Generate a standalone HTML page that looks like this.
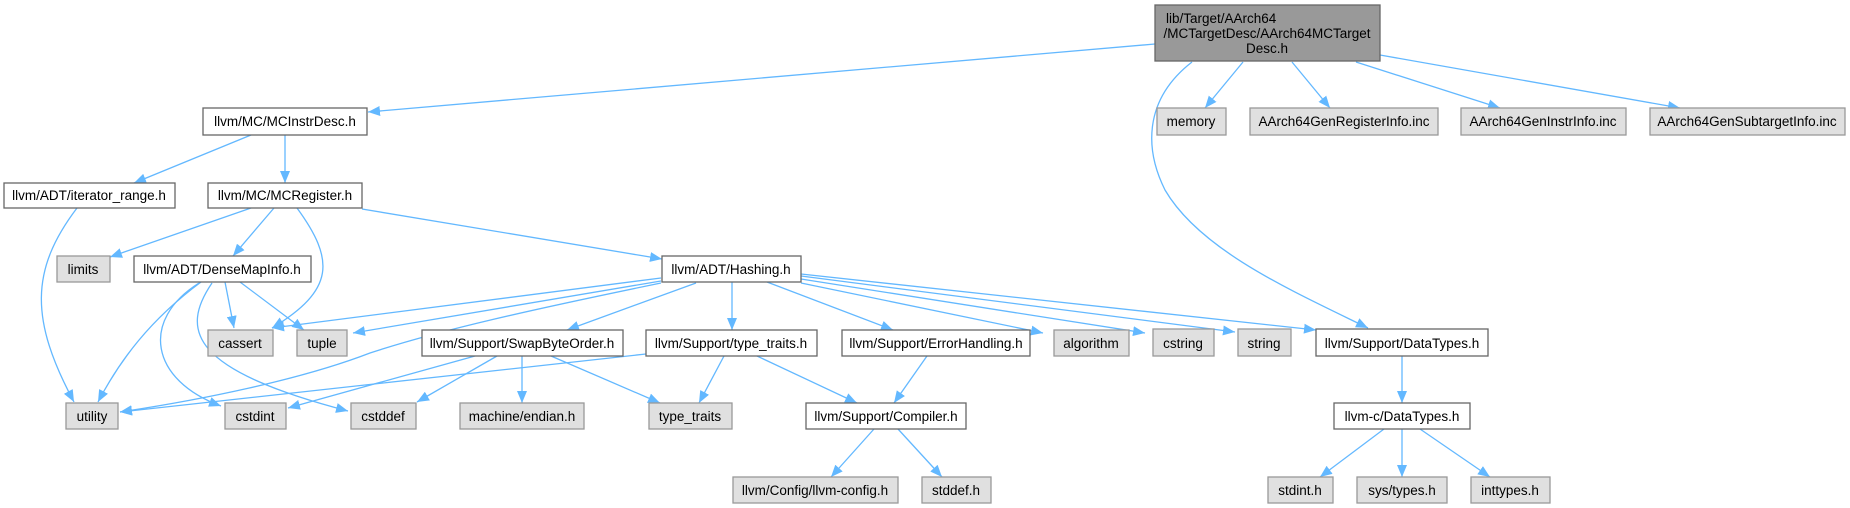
<!DOCTYPE html>
<html><head><meta charset="utf-8"><style>
html,body{margin:0;padding:0;background:#fff;width:1850px;height:508px;overflow:hidden}
svg text{font-family:"Liberation Sans",Arial,sans-serif;font-size:13.5px;fill:#000}
</style></head><body>
<svg width="1850" height="508" viewBox="0 0 1850 508" xmlns="http://www.w3.org/2000/svg">
<defs><marker id="a" markerUnits="userSpaceOnUse" markerWidth="12" markerHeight="10" refX="12" refY="5" orient="auto"><path d="M0,0 L12,5 L0,10 z" fill="#63b8ff"/></marker></defs>
<g fill="none" stroke="#63b8ff" stroke-width="1.3" marker-end="url(#a)">
<path d="M1155,44 L368,112"/>
<path d="M1192,62 C1143,100 1145,150 1165,190 C1200,250 1290,290 1368,328"/>
<path d="M1243,62 L1205,108"/>
<path d="M1292,62 L1330,108"/>
<path d="M1356,62 L1500,108"/>
<path d="M1380,55 L1680,108"/>
<path d="M251,135 L134,183"/>
<path d="M285,135 L285,183"/>
<path d="M251,208 L110,257"/>
<path d="M274,208 L233,256"/>
<path d="M297,208 C335,260 335,290 272,328"/>
<path d="M362,209 L662,259"/>
<path d="M77,208 C30,270 30,320 74,402"/>
<path d="M225,282 L234,328"/>
<path d="M240,282 L304,330"/>
<path d="M201,282 C150,320 120,360 98,402"/>
<path d="M199,283 C140,320 150,380 221,406"/>
<path d="M212,283 C180,330 190,370 348,411"/>
<path d="M661,278 L272,328"/>
<path d="M661,281 L353,333"/>
<path d="M661,283 C530,310 440,330 370,353 C300,380 200,400 120,412"/>
<path d="M696,283 L567,330"/>
<path d="M732,282 L732,330"/>
<path d="M767,282 L893,330"/>
<path d="M801,283 L1043,333"/>
<path d="M801,279 L1145,333"/>
<path d="M801,276 L1235,332"/>
<path d="M801,274 L1316,330"/>
<path d="M475,356 L288,408"/>
<path d="M497,356 L417,402"/>
<path d="M522,356 L522,403"/>
<path d="M551,356 L660,403"/>
<path d="M646,354 L120,412"/>
<path d="M724,356 L699,403"/>
<path d="M757,356 L857,403"/>
<path d="M927,356 L894,403"/>
<path d="M874,429 L831,477"/>
<path d="M898,429 L942,477"/>
<path d="M1402,356 L1402,403"/>
<path d="M1384,429 L1320,477"/>
<path d="M1402,429 L1402,477"/>
<path d="M1420,429 L1490,477"/>
</g>
<g stroke-width="1.3">
<rect x="1155" y="5" width="225" height="56" fill="#999" stroke="#666"/>
<g fill="#fff" stroke="#666">
<rect x="203" y="108" width="164" height="27"/>
<rect x="4" y="183" width="171" height="25"/>
<rect x="208" y="183" width="154" height="25"/>
<rect x="134" y="256" width="177" height="26"/>
<rect x="662" y="256" width="139" height="26"/>
<rect x="422" y="330" width="201" height="26"/>
<rect x="646" y="330" width="171" height="26"/>
<rect x="842" y="330" width="188" height="26"/>
<rect x="1316" y="329" width="172" height="27"/>
<rect x="806" y="403" width="160" height="26"/>
<rect x="1334" y="403" width="136" height="26"/>
</g>
<g fill="#e0e0e0" stroke="#999">
<rect x="1157" y="108" width="69" height="27"/>
<rect x="1250" y="108" width="188" height="27"/>
<rect x="1461" y="108" width="165" height="27"/>
<rect x="1650" y="108" width="195" height="27"/>
<rect x="57" y="256" width="53" height="26"/>
<rect x="208" y="330" width="65" height="26"/>
<rect x="297" y="330" width="50" height="26"/>
<rect x="1054" y="330" width="75" height="26"/>
<rect x="1153" y="329" width="61" height="27"/>
<rect x="1238" y="329" width="53" height="27"/>
<rect x="66" y="403" width="52" height="26"/>
<rect x="225" y="403" width="61" height="26"/>
<rect x="351" y="403" width="65" height="26"/>
<rect x="460" y="403" width="124" height="26"/>
<rect x="649" y="403" width="83" height="26"/>
<rect x="733" y="477" width="165" height="26"/>
<rect x="922" y="477" width="69" height="26"/>
<rect x="1268" y="477" width="65" height="26"/>
<rect x="1357" y="477" width="90" height="26"/>
<rect x="1471" y="477" width="79" height="26"/>
</g>
</g>
<g text-anchor="middle">
<text x="1166" y="23" text-anchor="start">lib/Target/AArch64</text>
<text x="1267" y="38">/MCTargetDesc/AArch64MCTarget</text>
<text x="1267" y="53">Desc.h</text>
<text x="285" y="126">llvm/MC/MCInstrDesc.h</text>
<text x="89" y="200">llvm/ADT/iterator_range.h</text>
<text x="285" y="200">llvm/MC/MCRegister.h</text>
<text x="222" y="274">llvm/ADT/DenseMapInfo.h</text>
<text x="731" y="274">llvm/ADT/Hashing.h</text>
<text x="522" y="348">llvm/Support/SwapByteOrder.h</text>
<text x="731" y="348">llvm/Support/type_traits.h</text>
<text x="936" y="348">llvm/Support/ErrorHandling.h</text>
<text x="1402" y="348">llvm/Support/DataTypes.h</text>
<text x="886" y="421">llvm/Support/Compiler.h</text>
<text x="1402" y="421">llvm-c/DataTypes.h</text>
<text x="1191" y="126">memory</text>
<text x="1344" y="126">AArch64GenRegisterInfo.inc</text>
<text x="1543" y="126">AArch64GenInstrInfo.inc</text>
<text x="1747" y="126">AArch64GenSubtargetInfo.inc</text>
<text x="83" y="274">limits</text>
<text x="240" y="348">cassert</text>
<text x="322" y="348">tuple</text>
<text x="1091" y="348">algorithm</text>
<text x="1183" y="348">cstring</text>
<text x="1264" y="348">string</text>
<text x="92" y="421">utility</text>
<text x="255" y="421">cstdint</text>
<text x="383" y="421">cstddef</text>
<text x="522" y="421">machine/endian.h</text>
<text x="690" y="421">type_traits</text>
<text x="815" y="495">llvm/Config/llvm-config.h</text>
<text x="956" y="495">stddef.h</text>
<text x="1300" y="495">stdint.h</text>
<text x="1402" y="495">sys/types.h</text>
<text x="1510" y="495">inttypes.h</text>
</g>
</svg>
</body></html>
